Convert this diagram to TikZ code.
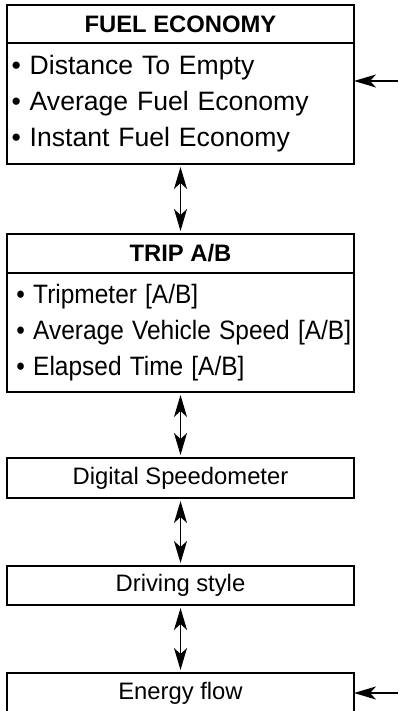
\documentclass[tikz,border=0pt]{standalone}
\usepackage{graphicx}
\usepackage{fontspec}
\setmainfont{Liberation Sans}
\usetikzlibrary{positioning,arrows.meta}

\tikzset{
  headbox/.style={draw, line width=0.8pt, minimum width=173.5pt, minimum height=19pt,
    inner sep=0pt, outer sep=0pt, font=\fontsize{11.9}{14}\selectfont\bfseries},
  listbox/.style={draw, line width=0.8pt, minimum width=173.5pt, minimum height=60.5pt,
    inner sep=0pt, outer sep=0pt, text width=169pt, align=left, font=\fontsize{13.3}{18}\selectfont},
  menubox/.style={draw, line width=0.8pt, minimum width=173.5pt, minimum height=20pt,
    inner sep=0pt, outer sep=0pt, font=\fontsize{11.9}{14}\selectfont},
  tip/.tip={Stealth[length=11pt,width=6.5pt,inset=3pt]},
  link/.style={tip-tip, line width=0.6pt, shorten <=1.5pt, shorten >=1.5pt},
  feed/.style={-tip, line width=0.6pt}
}
\newcommand{\narrow}[1]{\scalebox{0.92}[1]{#1}}

\begin{document}
\begin{tikzpicture}[x=0.5pt, y=-0.5pt]
        \useasboundingbox (0,0) rectangle (398,711);

        % Fuel economy
        \node[headbox, anchor=north] (fuelhead) at (180.5,5) {FUEL ECONOMY};
        \node[listbox, below=0pt of fuelhead] (fuelbody)
          {• Distance To Empty\\• Average Fuel Economy\\• Instant Fuel Economy};

        % Trip A/B
        \node[headbox, minimum height=19.5pt, below=35pt of fuelbody] (triphead) {TRIP A/B};
        \node[listbox, minimum height=59.5pt, text width=164pt, below=0pt of triphead] (tripbody)
          {\narrow{• Tripmeter [A/B]}\\\narrow{• Average Vehicle Speed [A/B]}\\\narrow{• Elapsed Time [A/B]}};

        % Single boxes
        \node[menubox, below=33pt of tripbody] (speedo) {Digital Speedometer};
        \node[menubox, minimum height=19.5pt, below=34pt of speedo] (drive) {Driving style};
        \node[menubox, below=34pt of drive] (energy) {Energy flow};

        % Links
        \draw[link] (fuelbody) -- (triphead);
        \draw[link] (tripbody) -- (speedo);
        \draw[link] (speedo) -- (drive);
        \draw[link] (drive) -- (energy);

        % Inputs from the right
        \coordinate (fuelsrc) at (398,81);
        \coordinate (energysrc) at (398,693);
        \draw[feed] (fuelsrc) -- (fuelsrc -| fuelbody.east);
        \draw[feed] (energysrc) -- (energysrc -| energy.east);
\end{tikzpicture}
\end{document}
